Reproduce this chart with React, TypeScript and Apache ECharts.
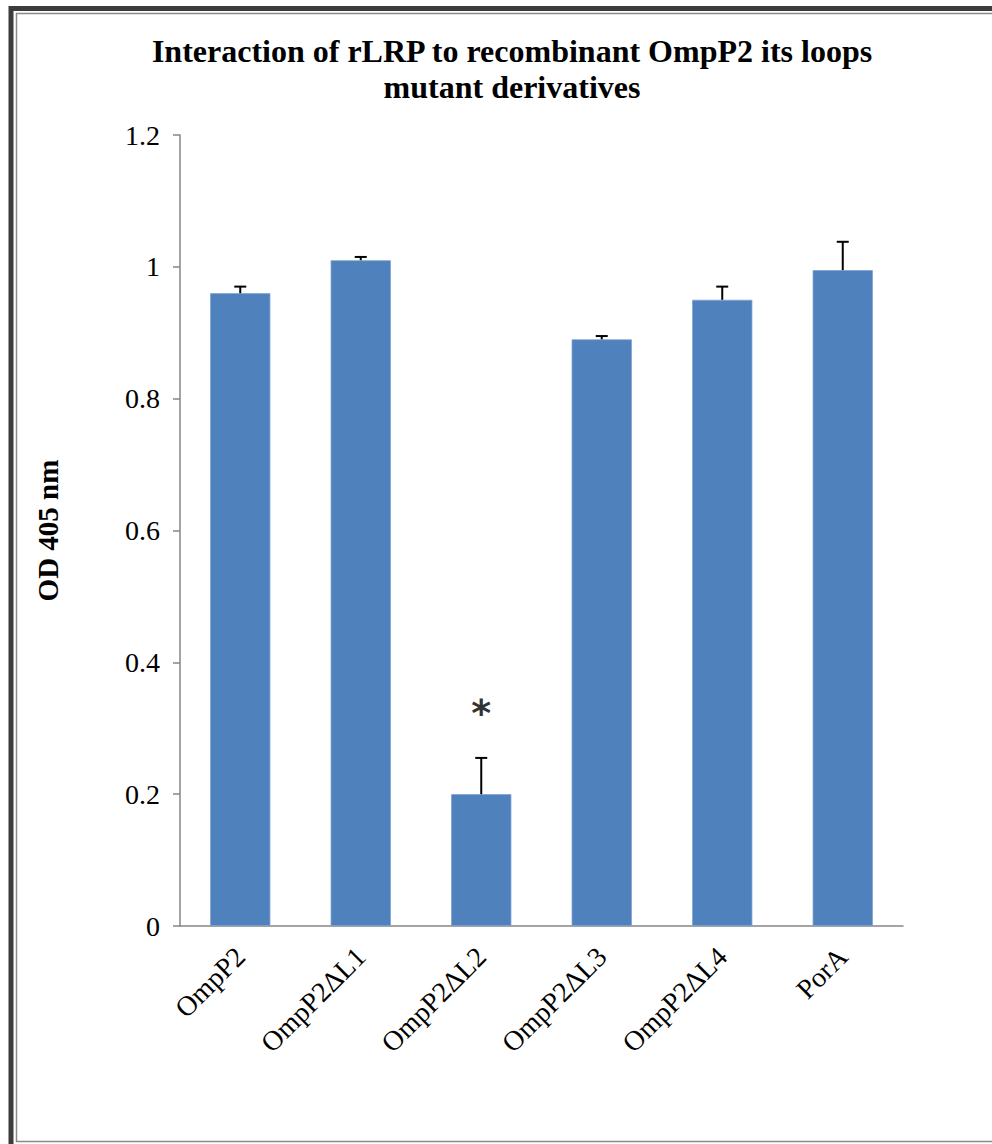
import React, { useEffect, useRef } from "react";
import * as echarts from "echarts";

const categories = ["OmpP2", "OmpP2ΔL1", "OmpP2ΔL2", "OmpP2ΔL3", "OmpP2ΔL4", "PorA"];
const values = [0.96, 1.01, 0.2, 0.89, 0.95, 0.995];
const errors = [0.01, 0.005, 0.055, 0.005, 0.02, 0.043];
const marks = ["", "", "*", "", "", ""];
const yTicks = [0, 0.2, 0.4, 0.6, 0.8, 1, 1.2];
const titleText = "Interaction of rLRP to recombinant OmpP2 its loops\nmutant derivatives";
const yName = "OD 405 nm";

const SERIF = "Liberation Serif";

export default function App() {
  const ref = useRef<HTMLDivElement>(null);
  useEffect(() => {
    if (!ref.current) return;
    const chart = echarts.init(ref.current, null, { renderer: "svg" });
    const errData = categories.map((c, i) => [i, values[i], errors[i]]);
    chart.setOption({
      animation: false,
      backgroundColor: "#ffffff",
      grid: { left: 180, right: 89, top: 135, bottom: 218, containLabel: false },
      graphic: [
        {
          type: "polyline",
          shape: { points: [[11, 1150], [11, 8.5], [1000, 8.5]] },
          style: { stroke: "#3c3c3c", lineWidth: 5, fill: null },
          z: 10,
        },
        {
          type: "rect",
          shape: { x: 16.5, y: 13.5, width: 1000, height: 1128 },
          style: { stroke: "#8a8a8a", lineWidth: 1.5, fill: null },
          z: 10,
        },
        {
          type: "text",
          x: 512,
          y: 33,
          style: {
            text: titleText,
            fontFamily: SERIF,
            fontWeight: "bold",
            fontSize: 32,
            fill: "#000",
            align: "center",
            verticalAlign: "top",
            lineHeight: 36,
          },
        },
      ],
      xAxis: {
        type: "category",
        data: categories,
        axisLine: { lineStyle: { color: "#868686", width: 1.5 } },
        axisTick: { show: false },
        axisLabel: {
          rotate: 45,
          margin: 26,
          color: "#000",
          fontFamily: SERIF,
          fontSize: 28,
          interval: 0,
        },
      },
      yAxis: {
        type: "value",
        min: 0,
        max: 1.2,
        interval: 0.2,
        name: yName,
        nameLocation: "middle",
        nameGap: 118,
        nameTextStyle: { fontFamily: SERIF, fontSize: 29, fontWeight: "bold", color: "#000" },
        axisLine: { show: true, lineStyle: { color: "#868686", width: 1.5 } },
        axisTick: { show: true, length: 7, lineStyle: { color: "#868686", width: 1.5 } },
        splitLine: { show: false },
        axisLabel: {
          margin: 20,
          color: "#000",
          fontFamily: SERIF,
          fontSize: 28,
          formatter: (v: number) => {
            const t = yTicks.find((x) => Math.abs(x - v) < 1e-6);
            return t === undefined ? "" : String(parseFloat(t.toFixed(1)));
          },
        },
      },
      series: [
        {
          type: "bar",
          data: values,
          barWidth: "50%",
          itemStyle: { color: "#4F81BD", borderColor: "#7fa3d0", borderWidth: 0.8 },
        },
        {
          type: "custom",
          data: errData,
          z: 5,
          renderItem: (params: any, api: any) => {
            const x = api.value(0);
            const v = api.value(1);
            const e = api.value(2);
            const base = api.coord([x, v]);
            const top = api.coord([x, v + e]);
            const half = 6;
            const children: any[] = [
              {
                type: "line",
                shape: { x1: base[0], y1: base[1], x2: top[0], y2: top[1] },
                style: { stroke: "#000", lineWidth: 2 },
              },
              {
                type: "line",
                shape: { x1: top[0] - half, y1: top[1], x2: top[0] + half, y2: top[1] },
                style: { stroke: "#000", lineWidth: 2 },
              },
            ];
            const m = marks[params.dataIndex];
            if (m) {
              children.push({
                type: "text",
                x: top[0],
                y: top[1] - 45,
                style: {
                  text: m,
                  fontFamily: "DejaVu Sans",
                  fontWeight: "bold",
                  fontSize: 38,
                  fill: "#333",
                  align: "center",
                  verticalAlign: "middle",
                },
              });
            }
            return { type: "group", children };
          },
        },
      ],
    });
    return () => chart.dispose();
  }, []);
  return (
    <div
      ref={ref}
      style={{ position: "fixed", left: 0, top: 0, width: 992, height: 1144, background: "#fff" }}
    />
  );
}
